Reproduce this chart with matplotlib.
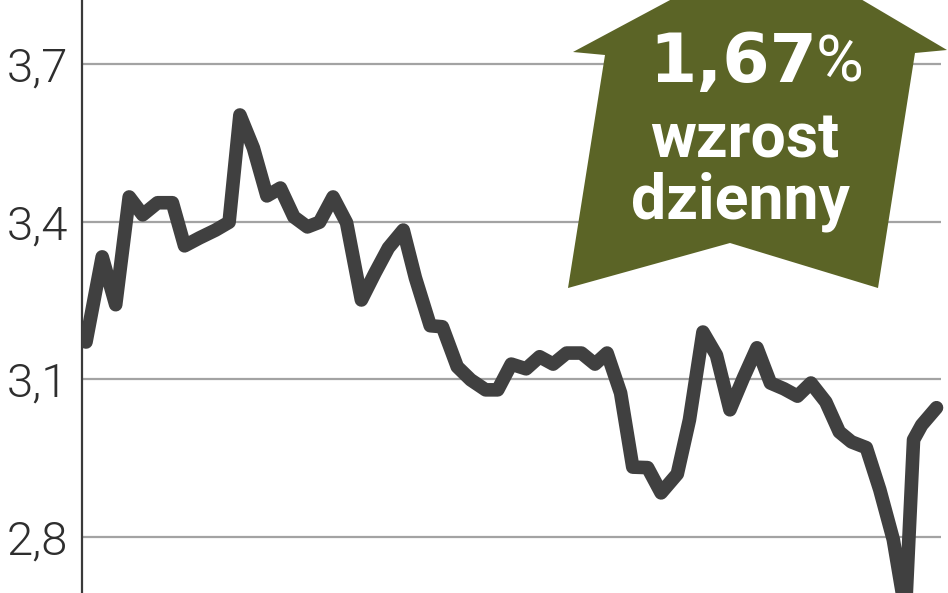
import matplotlib
matplotlib.use("Agg")
import matplotlib.pyplot as plt
from matplotlib.patches import Polygon

# ---- data ----
days = [0, 1.2, 2.2, 3.2, 4.2, 5.3, 6.4, 7.3, 8.4, 9.6, 10.6, 11.4, 12.4, 13.4,
        14.4, 15.4, 16.4, 17.3, 18.3, 19.3, 20.4, 21.4, 22.4, 23.5, 24.4, 25.5,
        26.4, 27.5, 28.5, 29.6, 30.5, 31.5, 32.6, 33.6, 34.6, 35.6, 36.7, 37.7,
        38.6, 39.6, 40.5, 41.6, 42.6, 43.8, 44.7, 45.7, 46.7, 47.7, 48.7, 49.7,
        50.7, 51.7, 52.7, 53.7, 54.8, 55.8, 56.7, 57.8, 58.8, 59.8, 60.7, 61.3,
        61.9, 63.0]
prices = [3.171, 3.333, 3.242, 3.447, 3.413, 3.436, 3.436, 3.354, 3.369, 3.384,
          3.399, 3.603, 3.540, 3.449, 3.464, 3.409, 3.390, 3.399, 3.447, 3.398,
          3.251, 3.302, 3.350, 3.384, 3.293, 3.202, 3.200, 3.124, 3.099, 3.080,
          3.080, 3.129, 3.120, 3.143, 3.129, 3.150, 3.150, 3.129, 3.150, 3.074,
          2.933, 2.932, 2.884, 2.920, 3.023, 3.190, 3.146, 3.042, 3.103, 3.160,
          3.093, 3.082, 3.068, 3.093, 3.057, 3.000, 2.981, 2.970, 2.890, 2.795,
          2.658, 2.985, 3.013, 3.046]
yticks = [2.8, 3.1, 3.4, 3.7]
ytick_labels = ["2,8", "3,1", "3,4", "3,7"]
badge_value = "1,67"
badge_pct = "%"
badge_lines = ["wzrost", "dzienny"]

W, H = 948, 593
fig = plt.figure(figsize=(W / 100, H / 100), dpi=100)
ax = fig.add_axes([82 / W, 0, 1 - 82 / W, 1])

x_left = (82 - 86) / 13.5
x_right = (948 - 86) / 13.5
x_grid_end = (941 - 86) / 13.5
ax.set_xlim(x_left, x_right)
ax.set_ylim(2.8 - 56 / 525.7, 3.7 + 64 / 525.7)

for yv in yticks:
    ax.hlines(yv, x_left, x_grid_end, color="#a3a3a3", lw=1.6, zorder=1)

ax.plot(days, prices, color="#404040", lw=9.8, solid_capstyle="round",
        solid_joinstyle="round", zorder=3)

for s in ["top", "right", "bottom"]:
    ax.spines[s].set_visible(False)
ax.spines["left"].set_color("#3a3a3a")
ax.spines["left"].set_linewidth(1.6)
ax.set_xticks([])
ax.set_yticks(yticks)
ax.set_yticklabels(ytick_labels)
ax.tick_params(axis="y", length=0, pad=10, labelsize=34, labelcolor="#2e2e2e")
for lab in ax.get_yticklabels():
    lab.set_fontfamily("Roboto")
    lab.set_fontweight(300)

# ---- badge arrow ----
def fpt(x, y):
    return (x / W, 1 - y / H)

verts = [fpt(771, -54), fpt(947, 50), fpt(915, 53), fpt(878, 288),
         fpt(730, 243), fpt(568, 288), fpt(605, 55), fpt(573, 52)]
arrow = Polygon(verts, closed=True, transform=fig.transFigure,
                facecolor="#5b6426", edgecolor="none", zorder=5)
fig.patches.append(arrow)

fig.text(*fpt(649, 82), badge_value, color="white", fontsize=49,
         fontweight="bold", family=["DejaVu Sans"], ha="left", va="baseline",
         zorder=6)
fig.text(*fpt(816, 82), badge_pct, color="white", fontsize=47,
         fontweight="normal", family=["Roboto"],
         ha="left", va="baseline", zorder=6)
fig.text(*fpt(745, 157), badge_lines[0], color="white", fontsize=45,
         fontweight="bold", family=["Roboto"],
         ha="center", va="baseline", zorder=6)
fig.text(*fpt(740, 218), badge_lines[1], color="white", fontsize=45,
         fontweight="bold", family=["Roboto"],
         ha="center", va="baseline", zorder=6)

fig.savefig("out.png", dpi=100)
